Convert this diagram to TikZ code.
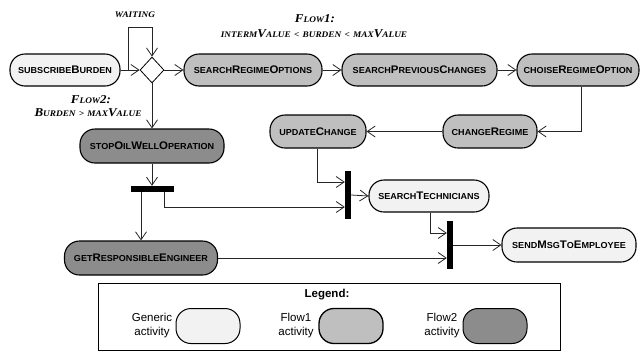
\documentclass[tikz,border=0pt]{standalone}
\usepackage{fontspec}
\setmainfont{Liberation Sans}
\usetikzlibrary{arrows.meta,shapes.geometric,calc}
\newfontfamily\nodefont[FakeStretch=1.04]{Liberation Sans}
\newfontfamily\labfont[FakeStretch=1.08]{Liberation Serif}
\newcommand\Sm[1]{{\fontsize{8.7}{10}\selectfont\MakeUppercase{#1}}}
\newcommand\Ls[1]{{\fontsize{8.6}{10}\selectfont\MakeUppercase{#1}}}
\definecolor{genc}{HTML}{F2F2F2}
\definecolor{flaone}{HTML}{BFBFBF}
\definecolor{flatwo}{HTML}{8C8C8C}
\begin{document}
\begin{tikzpicture}[x=1pt,y=-1pt,
 act/.style={draw=black,line width=1.1pt,rounded corners=15pt,minimum height=32pt,inner sep=0pt,font=\nodefont\bfseries\fontsize{11}{13}\selectfont},
 gen/.style={act,fill=genc}, fone/.style={act,fill=flaone}, ftwo/.style={act,fill=flatwo},
 bar/.style={fill=black,draw=none,inner sep=0pt},
 conn/.style={draw=black!85,line width=0.8pt,-{Straight Barb[length=8pt,width=11pt]}},
 lab/.style={font=\labfont\bfseries\itshape\fontsize{12}{14}\selectfont,inner sep=0pt},
 leg/.style={font=\fontsize{11.5}{14}\selectfont,align=center,inner sep=0pt},
 legact/.style={draw=black,line width=1pt,rounded corners=15pt,minimum width=64pt,minimum height=35pt}]
\useasboundingbox (0,0) rectangle (642,354);

% top row
\node[gen,minimum width=110pt] (sb) at (65,70) {\Sm{subscribe}B\Sm{urden}};
\node[diamond,draw,line width=0.8pt,fill=white,minimum width=24pt,minimum height=26pt,aspect=0.92,inner sep=0pt] (dia) at (152,70) {};
\node[fone,minimum width=138pt] (sro) at (253,70) {\Sm{search}R\Sm{egime}O\Sm{ptions}};
\node[fone,minimum width=155pt] (spc) at (419.5,70) {\Sm{search}P\Sm{revious}C\Sm{hanges}};
\node[fone,minimum width=122pt] (cro) at (578,70) {\Sm{choise}R\Sm{egime}O\Sm{ption}};

% second row
\node[fone,minimum width=96pt,minimum height=33pt] (uc) at (318,131.5) {\Sm{update}C\Sm{hange}};
\node[fone,minimum width=94pt,minimum height=33pt] (cr) at (490,131.5) {\Sm{change}R\Sm{egime}};
\node[ftwo,minimum width=144pt,minimum height=34pt] (sow) at (152,146) {\Sm{stop}O\Sm{il}W\Sm{ell}O\Sm{peration}};

% bars
\node[bar,minimum width=43pt,minimum height=6pt] (bar1) at (152,189) {};
\node[bar,minimum width=6pt,minimum height=48pt] (bar2) at (348,195) {};
\node[bar,minimum width=6pt,minimum height=48pt] (bar3) at (450,245) {};

% lower nodes
\node[gen,minimum width=120pt] (st) at (429,196) {\Sm{search}T\Sm{echnicians}};
\node[gen,minimum width=134pt,minimum height=34pt] (smte) at (569,245) {\Sm{send}M\Sm{sg}T\Sm{o}E\Sm{mployee}};
\node[ftwo,minimum width=153pt,minimum height=34pt] (gre) at (141,258) {\Sm{get}R\Sm{esponsible}E\Sm{ngineer}};

% labels
\node[lab] (lw) at (135,15) {\Ls{waiting}};
\node[lab] (lf1a) at (315,19) {F\Ls{low}1:};
\node[lab] (lf1b) at (314,34) {\Ls{interm}V\Ls{alue} \Ls{<} \Ls{burden} \Ls{<} \Ls{max}V\Ls{alue}};
\node[lab] (lf2a) at (91,100) {F\Ls{low}2:};
\node[lab] (lf2b) at (88,113) {B\Ls{urden} \Ls{>} \Ls{max}V\Ls{alue}};

% connectors
\draw[conn] (sb.east) -- (dia.west);
\coordinate (loop) at (128,70);
\draw[conn] (loop) -- ++(0,-43) -| (dia.north);
\draw[conn] (dia.east) -- (sro.west);
\draw[conn] (dia.south) -- (sow.north);
\draw[conn] (sro.east) -- (spc.west);
\draw[conn] (spc.east) -- (cro.west);
\draw[conn] ([xshift=3pt]cro.south) |- (cr.east);
\draw[conn] (cr.west) -- (uc.east);
\draw[conn] ([xshift=-1pt]uc.south) |- ([yshift=13pt]bar2.west);
\draw[conn] (sow.south) -- (bar1.north);
\draw[conn] ([xshift=12pt]bar1.south) |- ([yshift=-12pt]bar2.west);
\draw[conn] ([xshift=-11pt]bar1.south) -- (gre.north);
\draw[conn] (bar2.east) -- (st.west);
\draw[conn] ([xshift=1pt]st.south) |- ([yshift=12pt]bar3.west);
\draw[conn] (gre.east) -- (gre.east -| bar3.west);
\draw[conn] (bar3.east) -- (smte.west);

% legend
\node[draw=black,line width=0.9pt,minimum width=462pt,minimum height=67pt,inner sep=0pt] (legbox) at (329,316.5) {};
\node[font=\bfseries\fontsize{11.5}{13}\selectfont,inner sep=0pt] (legt) at (327,295) {Legend:};
\node[legact,fill=genc] (lg1) at (208,326) {};
\node[legact,fill=flaone,line width=1.3pt] (lg2) at (351,326) {};
\node[legact,fill=flatwo] (lg3) at (495,326) {};
\node[leg] (lt1) at (152,326) {Generic\\activity};
\node[leg] (lt2) at (296,326) {Flow1\\activity};
\node[leg] (lt3) at (442,326) {Flow2\\activity};
\end{tikzpicture}
\end{document}
